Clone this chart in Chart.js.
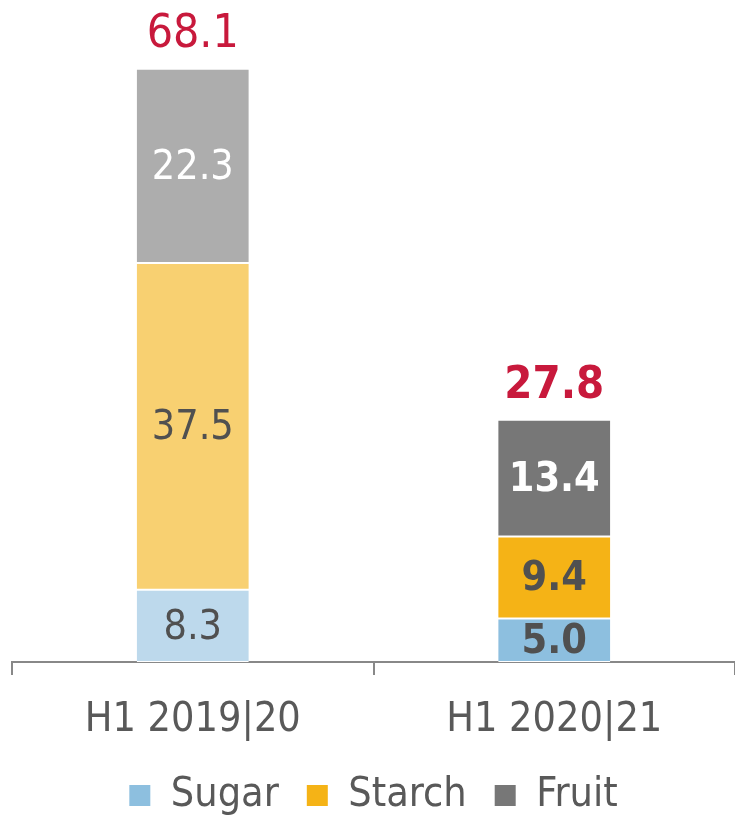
<html>
<head>
  <script src="https://cdn.jsdelivr.net/npm/chart.js"></script>
  <style>
    body { margin: 0; background: #fff; }
    #wrap { width: 735px; height: 816px; }
  </style>
</head>
<body>
<div id="wrap"><canvas id="myChart"></canvas></div>
<script>
  const categories = ['H1 2019|20', 'H1 2020|21'];
  const sugar = [8.3, 5.0];
  const starch = [37.5, 9.4];
  const fruit = [22.3, 13.4];

  const font = '"DejaVu Sans Condensed", "DejaVu Sans", sans-serif';
  const grey = '#595959';

  // first bar is drawn faded, second one in full colour
  const series = [
    { label: 'Sugar', data: sugar, colors: ['#BDD9EC', '#8DBFDF'], text: ['#505050', '#505050'] },
    { label: 'Starch', data: starch, colors: ['#F8D071', '#F5B316'], text: ['#505050', '#505050'] },
    { label: 'Fruit', data: fruit, colors: ['#ADADAD', '#777777'], text: ['#ffffff', '#ffffff'] }
  ];

  const labelPlugin = {
    id: 'barLabels',
    afterDatasetsDraw(chart) {
      const ctx = chart.ctx;
      ctx.save();
      ctx.textAlign = 'center';
      chart.data.datasets.forEach((ds, di) => {
        chart.getDatasetMeta(di).data.forEach((bar, i) => {
          const weight = i === 1 ? 'bold ' : '';
          ctx.font = weight + '41px ' + font;
          ctx.fillStyle = series[di].text[i];
          ctx.textBaseline = 'middle';
          const mid = (bar.y + bar.base) / 2;
          ctx.fillText(ds.data[i].toFixed(1), bar.x, mid + 2);
        });
      });
      // totals in red above each bar
      const last = chart.getDatasetMeta(chart.data.datasets.length - 1);
      categories.forEach((c, i) => {
        const total = sugar[i] + starch[i] + fruit[i];
        const bar = last.data[i];
        ctx.font = (i === 1 ? 'bold 45px ' : '46px ') + font;
        ctx.fillStyle = '#C8193C';
        ctx.textBaseline = 'alphabetic';
        ctx.fillText(total.toFixed(1), bar.x, bar.y - 22);
      });
      ctx.restore();
    }
  };

  new Chart(document.getElementById('myChart'), {
    type: 'bar',
    data: {
      labels: categories,
      datasets: series.map(s => ({
        label: s.label,
        data: s.data,
        backgroundColor: s.colors,
        borderColor: '#ffffff',
        borderWidth: { top: 1, bottom: 1, left: 0, right: 0 },
        borderSkipped: false,
        categoryPercentage: 1,
        barPercentage: 0.31
      }))
    },
    options: {
      responsive: true,
      maintainAspectRatio: false,
      animation: false,
      layout: { padding: { left: 12, right: 0, top: 0, bottom: -10 } },
      plugins: {
        tooltip: { enabled: false },
        legend: {
          position: 'bottom',
          labels: {
            font: { family: font, size: 41 },
            color: grey,
            boxWidth: 21,
            boxHeight: 21,
            padding: 28,
            generateLabels(chart) {
              return chart.data.datasets.map((ds, i) => ({
                text: ds.label,
                fillStyle: ds.backgroundColor[1],
                strokeStyle: ds.backgroundColor[1],
                lineWidth: 0,
                fontColor: grey,
                datasetIndex: i
              }));
            }
          }
        }
      },
      scales: {
        x: {
          stacked: true,
          grid: { offset: true, drawOnChartArea: false, drawTicks: true, tickLength: 13, color: '#888888', lineWidth: 2 },
          border: { color: '#888888', width: 2 },
          ticks: { font: { family: font, size: 41 }, color: grey, padding: 21 },
          afterFit(scale) { scale.height = 85; }
        },
        y: {
          stacked: true,
          display: false,
          min: 0,
          max: 76
        }
      }
    },
    plugins: [labelPlugin]
  });
</script>
</body>
</html>
